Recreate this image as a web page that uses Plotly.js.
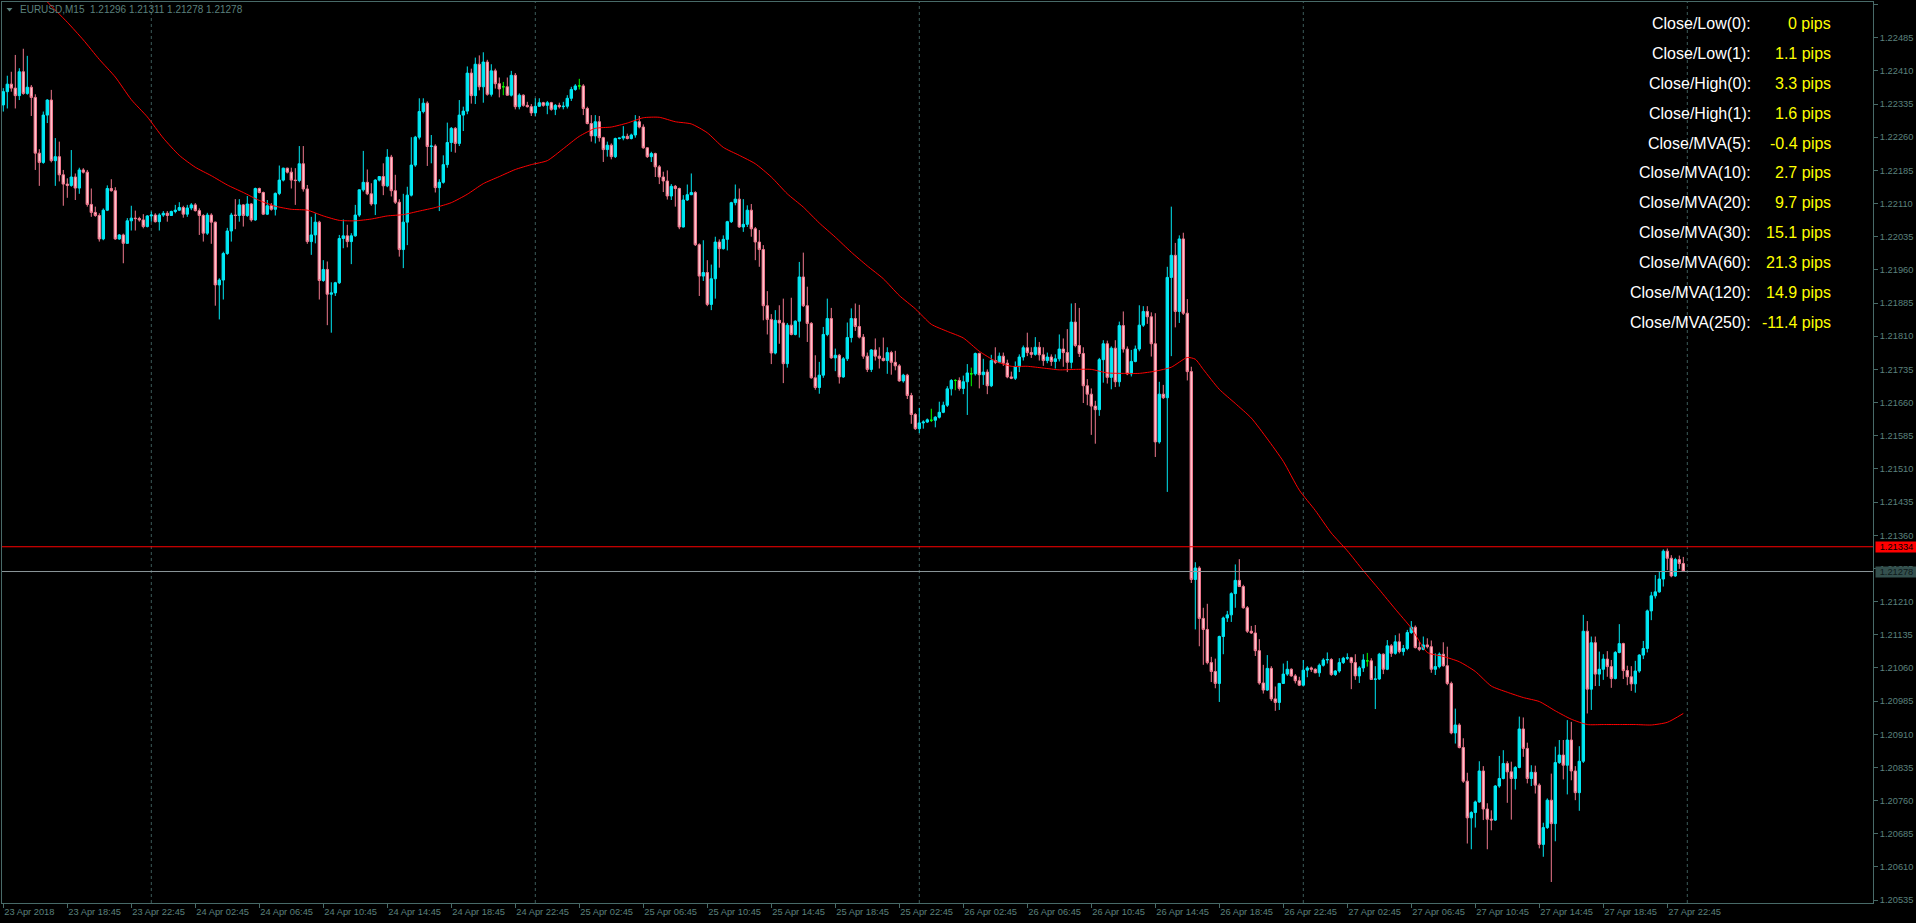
<!DOCTYPE html>
<html><head><meta charset="utf-8">
<script src="https://cdn.plot.ly/plotly-3.0.1.min.js"></script>
<style>html,body{margin:0;padding:0;background:#000;overflow:hidden}#chart{width:1916px;height:923px}</style>
</head><body><div id="chart"></div>
<script>
// ---- data (prices in points above 1.20000) ----
const BASE = 1.2, PT = 0.00001;
const symbol = 'EURUSD,M15';
const headerOHLC = [1.21296, 1.21311, 1.21278, 1.21278];
const startTime = [2018, 3, 23, 14, 45]; // first bar, M15
const barMinutes = 15;
const open = [
2333,2363,2380,2371,2354,2408,2359,2373,2350,2224,2203,2310,2344,2207,2216,2175,2154,2151,2170,2145,
2186,2181,2108,2090,2083,2030,2095,2144,2139,2030,2039,2020,2071,2077,2076,2073,2058,2082,2084,2069,
2084,2088,2083,2092,2095,2101,2086,2100,2107,2094,2083,2043,2084,2068,1926,1937,1997,2048,2084,2083,
2107,2083,2109,2073,2144,2135,2086,2105,2097,2133,2163,2190,2181,2163,2162,2200,2143,2024,2039,2068,
1936,1961,1905,1908,1931,2031,2037,2024,2037,2084,2141,2158,2132,2109,2163,2171,2150,2215,2139,2113,
2006,2068,2129,2197,2260,2318,2337,2239,2240,2146,2158,2198,2248,2280,2246,2310,2319,2405,2354,2425,
2374,2430,2357,2410,2381,2374,2374,2355,2400,2329,2355,2332,2329,2315,2330,2338,2332,2338,2323,2332,
2329,2330,2348,2368,2376,2376,2325,2291,2263,2295,2259,2232,2242,2216,2257,2258,2262,2257,2265,2295,
2283,2236,2216,2223,2193,2170,2161,2127,2149,2144,2057,2118,2130,2135,2017,1946,1954,1882,1940,2023,
2008,2029,2069,2112,2120,2057,2063,2095,2053,2023,2006,1879,1848,1772,1846,1840,1748,1835,1814,1844,
1944,1879,1839,1716,1694,1722,1814,1850,1761,1767,1718,1759,1807,1850,1832,1808,1765,1735,1779,1765,
1760,1755,1773,1751,1743,1709,1722,1676,1633,1601,1614,1616,1620,1620,1627,1638,1654,1691,1710,1710,
1692,1707,1725,1725,1771,1723,1729,1698,1755,1751,1765,1749,1718,1715,1741,1763,1784,1773,1769,1785,
1768,1755,1763,1753,1759,1781,1773,1751,1842,1789,1771,1698,1679,1652,1644,1757,1793,1717,1783,1707,
1834,1781,1725,1753,1781,1835,1866,1854,1793,1571,1679,1671,1943,1993,1866,2030,1862,1730,1260,1286,
1172,1147,1072,1052,1025,1131,1173,1180,1228,1258,1244,1196,1143,1139,1099,1026,1010,1059,990,982,
1025,1046,1057,1042,1031,1021,1055,1060,1057,1049,1066,1078,1079,1045,1053,1072,1082,1083,1072,1042,
1060,1076,1076,1034,1035,1091,1057,1110,1093,1119,1097,1104,1140,1152,1106,1102,1112,1108,1057,1063,
1091,1065,1025,913,931,880,804,721,733,757,827,741,718,716,793,810,844,825,810,835,
922,878,810,824,795,661,699,761,708,846,863,840,897,827,778,849,1143,1012,1117,1046,
1057,1080,1063,1036,1095,1115,1054,1040,1024,1053,1089,1104,1189,1223,1232,1261,1324,1308,1268,1305,
1296];
const high = [
2371,2399,2408,2446,2416,2460,2444,2378,2357,2233,2318,2346,2367,2258,2250,2186,2167,2231,2178,2191,
2190,2186,2144,2103,2088,2099,2151,2165,2147,2041,2042,2077,2105,2094,2080,2086,2084,2092,2088,2088,
2093,2093,2094,2107,2113,2105,2107,2111,2111,2099,2086,2089,2088,2069,1941,2001,2055,2089,2120,2120,
2109,2127,2111,2146,2146,2137,2118,2111,2135,2196,2191,2191,2191,2190,2240,2240,2152,2080,2088,2071,
1982,1979,1932,1933,2039,2074,2062,2043,2107,2142,2229,2187,2156,2165,2172,2201,2233,2220,2175,2120,
2132,2148,2260,2263,2348,2348,2341,2265,2244,2165,2219,2293,2283,2283,2344,2329,2420,2415,2440,2445,
2452,2435,2425,2415,2395,2385,2395,2410,2405,2359,2357,2340,2335,2348,2348,2340,2342,2340,2335,2338,
2340,2355,2374,2380,2392,2380,2329,2310,2310,2308,2261,2250,2246,2259,2259,2285,2268,2268,2310,2308,
2289,2237,2227,2225,2197,2182,2185,2154,2152,2146,2129,2153,2178,2138,2020,2027,1982,1972,2035,2029,
2038,2071,2114,2153,2144,2120,2106,2109,2057,2050,2016,1912,1860,1869,1880,1895,1840,1897,1846,1978,
1999,1922,1842,1767,1752,1831,1895,1874,1782,1770,1763,1841,1873,1884,1881,1815,1773,1781,1805,1785,
1807,1785,1777,1777,1747,1725,1725,1682,1636,1648,1620,1624,1646,1629,1662,1662,1697,1713,1713,1717,
1721,1747,1739,1773,1773,1759,1735,1768,1785,1773,1773,1757,1730,1753,1769,1789,1818,1785,1808,1797,
1785,1773,1769,1769,1814,1805,1826,1884,1885,1874,1785,1713,1692,1664,1761,1801,1800,1787,1801,1843,
1866,1787,1779,1789,1880,1878,1878,1864,1862,1707,1700,1967,2103,2021,2038,2044,1894,1741,1299,1290,
1196,1205,1085,1081,1133,1176,1189,1231,1294,1306,1248,1200,1155,1157,1125,1067,1089,1064,1018,1026,
1070,1076,1059,1046,1040,1078,1064,1063,1059,1070,1082,1095,1082,1055,1082,1085,1093,1085,1091,1064,
1091,1094,1082,1064,1094,1093,1123,1114,1134,1138,1112,1146,1166,1156,1119,1131,1127,1122,1093,1095,
1118,1108,1029,968,935,901,823,736,760,849,838,754,738,795,861,874,849,848,838,950,
948,891,840,839,799,710,765,821,882,897,897,942,938,838,883,1180,1166,1131,1131,1097,
1091,1098,1078,1098,1159,1117,1065,1064,1076,1091,1121,1192,1232,1270,1279,1328,1330,1315,1309,1314,
1311];
const low = [
2318,2325,2363,2325,2344,2356,2356,2308,2186,2150,2200,2292,2203,2150,2160,2105,2123,2148,2118,2132,
2178,2103,2080,2080,2024,2027,2093,2137,2028,2028,1975,2019,2049,2049,2069,2054,2056,2069,2067,2049,
2080,2069,2082,2088,2093,2078,2080,2095,2092,2039,2024,2039,2019,1879,1848,1893,1994,2024,2052,2069,
2058,2080,2069,2071,2133,2084,2084,2094,2083,2129,2160,2178,2144,2107,2158,2137,2019,1994,2020,1893,
1933,1835,1818,1901,1928,2009,2011,1973,2035,2080,2137,2129,2105,2084,2160,2129,2147,2126,2109,1990,
1964,2016,2126,2193,2255,2314,2195,2201,2135,2093,2155,2191,2227,2225,2240,2274,2312,2336,2335,2366,
2338,2354,2352,2370,2350,2355,2354,2352,2323,2323,2329,2327,2308,2308,2329,2329,2312,2320,2310,2325,
2323,2325,2342,2365,2368,2310,2289,2250,2246,2250,2204,2216,2210,2213,2255,2253,2255,2255,2259,2280,
2234,2213,2204,2170,2154,2136,2119,2118,2103,2052,2056,2116,2129,2014,1901,1935,1878,1869,1895,1965,
2006,2004,2066,2106,2055,2046,2057,2035,1982,1967,1846,1814,1747,1769,1793,1704,1739,1812,1812,1807,
1876,1797,1714,1689,1680,1716,1810,1759,1731,1703,1716,1754,1796,1822,1805,1759,1729,1729,1755,1737,
1753,1725,1723,1733,1707,1705,1668,1612,1598,1591,1601,1614,1616,1604,1624,1636,1650,1676,1688,1687,
1679,1632,1697,1721,1692,1700,1679,1695,1747,1749,1743,1715,1713,1711,1729,1755,1765,1761,1766,1755,
1743,1749,1743,1737,1753,1741,1729,1737,1785,1763,1659,1654,1587,1567,1630,1705,1703,1690,1695,1696,
1773,1722,1719,1751,1776,1831,1838,1764,1537,1567,1668,1458,1765,1830,1840,1858,1710,1252,1147,1109,
1067,1068,1028,1014,983,1091,1164,1164,1196,1243,1194,1139,1137,1087,1022,1002,1008,985,963,965,
1024,1042,1040,1025,1019,1020,1039,1051,1048,1040,1063,1070,1042,1042,1049,1069,1078,1012,1033,1026,
1051,1063,1033,967,1033,1046,1055,1085,1090,1093,1088,1100,1137,1104,1098,1100,1104,1049,1044,1059,
1063,1021,910,889,878,800,663,650,699,755,716,650,693,714,789,808,755,717,785,833,
859,799,793,776,652,633,696,576,668,843,808,774,806,761,737,845,957,965,1019,1019,
1033,1040,1015,1034,1093,1035,1021,1008,1004,1049,1080,1095,1168,1217,1230,1244,1281,1265,1266,1284,
1278];
const close = [
2363,2380,2371,2354,2408,2359,2373,2350,2224,2203,2310,2344,2207,2216,2175,2154,2151,2170,2145,2186,
2181,2108,2090,2083,2030,2095,2144,2139,2030,2039,2020,2071,2077,2076,2073,2058,2082,2084,2069,2084,
2088,2083,2092,2095,2101,2086,2100,2107,2094,2083,2043,2084,2068,1926,1937,1997,2048,2084,2083,2107,
2083,2109,2073,2144,2135,2086,2105,2097,2133,2163,2190,2181,2163,2162,2200,2143,2024,2039,2068,1936,
1961,1905,1908,1931,2031,2037,2024,2037,2084,2141,2158,2132,2109,2163,2171,2150,2215,2139,2113,2006,
2068,2129,2197,2260,2318,2337,2239,2240,2146,2158,2198,2248,2280,2246,2310,2319,2405,2354,2425,2374,
2430,2357,2410,2381,2369,2374,2355,2400,2329,2355,2332,2329,2315,2330,2338,2332,2338,2323,2332,2329,
2330,2348,2368,2376,2376,2325,2291,2263,2295,2259,2232,2242,2216,2257,2258,2262,2257,2265,2295,2283,
2236,2216,2223,2193,2170,2161,2127,2149,2144,2057,2118,2130,2135,2017,1946,1954,1882,1940,2023,2008,
2029,2069,2112,2120,2057,2063,2095,2053,2023,2006,1879,1848,1772,1846,1840,1748,1835,1814,1844,1944,
1879,1839,1716,1694,1722,1814,1850,1761,1767,1718,1759,1807,1850,1832,1808,1765,1735,1779,1765,1760,
1755,1773,1751,1743,1709,1722,1676,1633,1601,1614,1616,1621,1620,1627,1638,1654,1691,1710,1710,1692,
1707,1727,1725,1771,1723,1729,1698,1755,1751,1765,1749,1718,1715,1741,1763,1784,1773,1769,1785,1768,
1755,1763,1753,1759,1781,1773,1751,1842,1789,1771,1698,1679,1652,1644,1757,1793,1717,1783,1707,1834,
1781,1725,1753,1781,1835,1866,1854,1793,1571,1679,1671,1943,1993,1866,2030,1862,1730,1260,1286,1172,
1147,1072,1052,1025,1131,1173,1180,1228,1258,1244,1196,1143,1139,1099,1026,1010,1059,990,982,1025,
1046,1057,1042,1031,1021,1055,1060,1057,1049,1066,1078,1079,1045,1053,1072,1082,1083,1072,1042,1060,
1078,1076,1034,1035,1091,1057,1110,1093,1119,1097,1104,1140,1152,1106,1102,1112,1108,1057,1063,1091,
1065,1025,913,931,880,804,721,733,757,827,741,718,716,793,810,844,825,810,835,922,
878,810,824,795,661,699,761,708,846,863,840,897,827,778,849,1143,1012,1117,1046,1057,
1080,1063,1036,1095,1115,1054,1040,1024,1053,1089,1104,1189,1223,1232,1261,1324,1308,1268,1305,1296,
1278];
// moving average: bar number -> value (points above 1.20000)
const maBar = [10,11,16,20,24,28,32,36,40,44,48,52,56,60,64,68,72,76,80,84,88,92,96,100,104,108,112,116,120,124,128,132,136,140,144,148,152,156,160,164,168,172,176,180,184,188,192,196,200,204,208,212,216,220,224,228,232,236,240,244,248,252,256,260,264,268,272,276,280,284,288,292,296,298,300,304,308,312,316,320,324,328,332,336,340,344,348,352,356,360,364,368,372,376,380,384,388,392,396,400,404,408,412,416,420];
const maVal = [2576,2566,2520,2480,2436,2396,2345,2306,2258,2219,2192,2173,2152,2135,2117,2104,2097,2095,2082,2072,2071,2075,2082,2085,2093,2101,2112,2131,2155,2171,2187,2198,2207,2234,2262,2280,2283,2292,2304,2305,2295,2290,2270,2237,2219,2200,2170,2132,2102,2066,2034,2000,1969,1940,1902,1872,1837,1821,1806,1776,1754,1742,1742,1738,1734,1735,1735,1727,1726,1726,1731,1740,1762,1758,1735,1690,1658,1625,1578,1527,1462,1416,1365,1325,1280,1237,1193,1150,1095,1086,1074,1052,1019,1005,993,984,963,944,932,932,932,932,931,937,957];
const tickLabels = ['23 Apr 2018','23 Apr 18:45','23 Apr 22:45',
 '24 Apr 02:45','24 Apr 06:45','24 Apr 10:45','24 Apr 14:45','24 Apr 18:45','24 Apr 22:45',
 '25 Apr 02:45','25 Apr 06:45','25 Apr 10:45','25 Apr 14:45','25 Apr 18:45','25 Apr 22:45',
 '26 Apr 02:45','26 Apr 06:45','26 Apr 10:45','26 Apr 14:45','26 Apr 18:45','26 Apr 22:45',
 '27 Apr 02:45','27 Apr 06:45','27 Apr 10:45','27 Apr 14:45','27 Apr 18:45','27 Apr 22:45'];
const bidPrice = 1.21278, askPrice = 1.21334;
const infoLabels = ['Close/Low(0):','Close/Low(1):','Close/High(0):','Close/High(1):','Close/MVA(5):','Close/MVA(10):','Close/MVA(20):','Close/MVA(30):','Close/MVA(60):','Close/MVA(120):','Close/MVA(250):'];
const infoPips = [0, 1.1, 3.3, 1.6, -0.4, 2.7, 9.7, 15.1, 21.3, 14.9, -11.4];

// ---- build ----
const px = v => +(BASE + v * PT).toFixed(5);
const n = close.length;
const idx = [...Array(n).keys()];
const isDoji = idx.map(i => open[i] === close[i]);
function pick(arr, want){ return idx.filter(i => isDoji[i] === want).map(i => arr[i]); }
const mainX = idx.filter(i => !isDoji[i]);
const dojiX = idx.filter(i => isDoji[i]);
const CYAN = '#00e8f4', PINK_F = '#ffc2cc', PINK_L = '#f0788e', LIME = '#00ff00';
const AX = '#486a68', TX = '#5b807d';
const FONT = 'Liberation Sans, Arial, sans-serif';

const traces = [
 {type:'candlestick', x: mainX, open: pick(open,false).map(px), high: pick(high,false).map(px), low: pick(low,false).map(px), close: pick(close,false).map(px),
  increasing:{fillcolor:CYAN, line:{color:CYAN, width:1}}, decreasing:{fillcolor:PINK_F, line:{color:PINK_L, width:1}},
  whiskerwidth:0, hoverinfo:'skip'},
 {type:'candlestick', x: dojiX, open: pick(open,true).map(px), high: pick(high,true).map(px), low: pick(low,true).map(px), close: pick(close,true).map(px),
  increasing:{fillcolor:LIME, line:{color:LIME, width:1}}, decreasing:{fillcolor:LIME, line:{color:LIME, width:1}},
  whiskerwidth:0, hoverinfo:'skip'},
 {type:'scatter', mode:'lines', x: maBar, y: maVal.map(px), line:{color:'#ff0000', width:1, shape:'spline', smoothing:0.6}, hoverinfo:'skip', cliponaxis:true}
];

// day separators from bar times
const t0 = Date.UTC(...startTime);
const seps = [];
for (let i = 0; i <= n; i++) { const d = new Date(t0 + i * barMinutes * 60000); if (d.getUTCHours() === 0 && d.getUTCMinutes() === 0) seps.push(i); }

const W = 1916, H = 923, ML = 2, MR = 43, MT = 2, MB = 20;
const PW = W - ML - MR, PH = H - MT - MB;
const xp = p => (p - ML) / PW;      // page px -> paper x
const yp = p => 1 - (p - MT) / PH;  // page px -> paper y
const BAR_PX = 4, FIRST_PX = 3.3;   // bar spacing on screen
const xRange = [(ML - FIRST_PX) / BAR_PX, (ML + PW - FIRST_PX) / BAR_PX];
const yTopPx = 37.7, yStepPx = 33.17, yTopVal = 1.22485, yStep = 0.00075;
const yRange = [yTopVal - (MT + PH - yTopPx) / yStepPx * yStep, yTopVal + (yTopPx - MT) / yStepPx * yStep];

const shapes = seps.map(i => ({type:'line', xref:'x', yref:'paper', x0:i, x1:i, y0:0, y1:1, layer:'below', line:{color:'#3c5c5a', width:1, dash:'3px,3px'}}));
shapes.push({type:'line', xref:'paper', yref:'y', x0:0, x1:1, y0:askPrice, y1:askPrice, line:{color:'#ff0000', width:1}});
shapes.push({type:'line', xref:'paper', yref:'y', x0:0, x1:1, y0:bidPrice, y1:bidPrice, line:{color:'#8c979a', width:1}});
// header menu triangle
shapes.push({type:'path', xref:'paper', yref:'paper', path:`M ${xp(6.5)} ${yp(8)} L ${xp(12.5)} ${yp(8)} L ${xp(9.5)} ${yp(11.5)} Z`, fillcolor:TX, line:{width:0}});

const ann = [];
infoLabels.forEach((lab, k) => {
  const yy = yp(23.3 + 29.93 * k);
  ann.push({xref:'paper', yref:'paper', x: xp(1753), y: yy, xanchor:'right', yanchor:'middle', text: lab, showarrow:false, font:{family:FONT, size:16, color:'#ffffff'}});
  ann.push({xref:'paper', yref:'paper', x: xp(1833), y: yy, xanchor:'right', yanchor:'middle', text: infoPips[k] + ' pips', showarrow:false, font:{family:FONT, size:16, color:'#ffff00'}});
});
ann.push({xref:'paper', yref:'paper', x: xp(18), y: yp(10), xanchor:'left', yanchor:'middle', showarrow:false,
  text: symbol + '  ' + headerOHLC.map(v => v.toFixed(5)).join(' '), font:{family:FONT, size:10, color:TX}});
ann.push({xref:'paper', yref:'y', x: 1, y: askPrice, xanchor:'left', yanchor:'middle', xshift:2, showarrow:false, text: askPrice.toFixed(5),
  bgcolor:'#ff0000', borderpad:0, width:41, height:10, font:{family:FONT, size:9.3, color:'#000000'}});
ann.push({xref:'paper', yref:'y', x: 1, y: bidPrice, xanchor:'left', yanchor:'middle', xshift:2, showarrow:false, text: bidPrice.toFixed(5),
  bgcolor:'#34504e', borderpad:0, width:41, height:10, font:{family:FONT, size:9.3, color:'#0e1a1a'}});

const layout = {
  width:W, height:H, paper_bgcolor:'#000', plot_bgcolor:'#000',
  margin:{l:ML, r:MR, t:MT, b:MB, pad:0}, showlegend:false, boxgap:0.4, boxgroupgap:0, hovermode:false,
  xaxis:{range:xRange, rangeslider:{visible:false}, showgrid:false, zeroline:false, showline:true, linecolor:AX, linewidth:1, mirror:true,
    ticks:'outside', ticklen:4, tickcolor:AX, tickmode:'array', tickvals: tickLabels.map((_, k) => k * 16), ticktext: tickLabels,
    ticklabelposition:'outside right', tickfont:{family:FONT, size:9.3, color:TX}, fixedrange:true},
  yaxis:{range:yRange, side:'right', showgrid:false, zeroline:false, showline:true, linecolor:AX, linewidth:1, mirror:true,
    ticks:'outside', ticklen:4, tickcolor:AX, tick0:1.20535, dtick:yStep, tickformat:'.5f',
    tickfont:{family:FONT, size:9.3, color:TX}, fixedrange:true},
  shapes, annotations: ann
};
Plotly.newPlot('chart', traces, layout, {displayModeBar:false, staticPlot:true});
</script>
</body></html>
